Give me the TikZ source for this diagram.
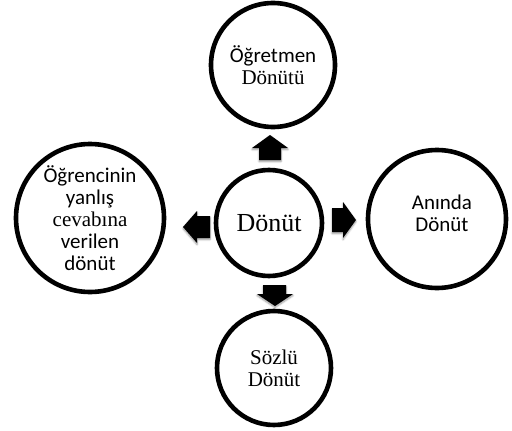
\documentclass[tikz,border=0pt]{standalone}
\usepackage{fontspec}
\setmainfont{Liberation Serif}
\newfontfamily\calfont{Carlito}
\usetikzlibrary{shadows.blur}
\begin{document}
\begin{tikzpicture}[x=1pt,y=-1pt,
  bubble/.style={draw=black,line width=4.6pt,circle,inner sep=0pt,align=center,
    font=\fontsize{21}{22}\selectfont},
  label text/.style={inner sep=0pt,align=center,font=\fontsize{21}{22}\selectfont},
  blockarrow/.style={fill=black,blur shadow={shadow xshift=0pt,shadow yshift=-1.5pt,shadow blur steps=6,shadow opacity=40}}]
\useasboundingbox (0,0) rectangle (512,431);
\node[bubble,minimum size=106pt,font=\fontsize{26}{28}\selectfont] (c) at (269,223) {Dönüt};
\node[bubble,minimum size=124pt] (t) at (273,65) {{\calfont Öğretmen}\\Dönütü};
\node[bubble,minimum size=138pt] (r) at (437,219) {};
\node[label text] (rt) at (442,213) {{\calfont Anında}\\{\calfont Dönüt}};
\node[bubble,minimum size=148pt] (l) at (90,218) {{\calfont Öğrencinin}\\{\calfont yanlış}\\cevabına\\{\calfont verilen}\\{\calfont dönüt}};
\node[bubble,minimum size=114pt] (b) at (274,368) {Sözlü\\Dönüt};
% block arrows
\fill[blockarrow] (259,160) -- (259,148) -- (252,148) -- (270,135) -- (288,148) -- (281,148) -- (281,160) -- cycle;
\fill[blockarrow] (332,208) -- (343,208) -- (343,202) -- (356,220) -- (343,238) -- (343,232) -- (332,232) -- cycle;
\fill[blockarrow] (210,216) -- (197,216) -- (197,211) -- (183,227) -- (197,243) -- (197,238) -- (210,238) -- cycle;
\fill[blockarrow] (263,285) -- (263,294) -- (257,294) -- (275,306) -- (293,294) -- (286,294) -- (286,285) -- cycle;
\end{tikzpicture}
\end{document}
